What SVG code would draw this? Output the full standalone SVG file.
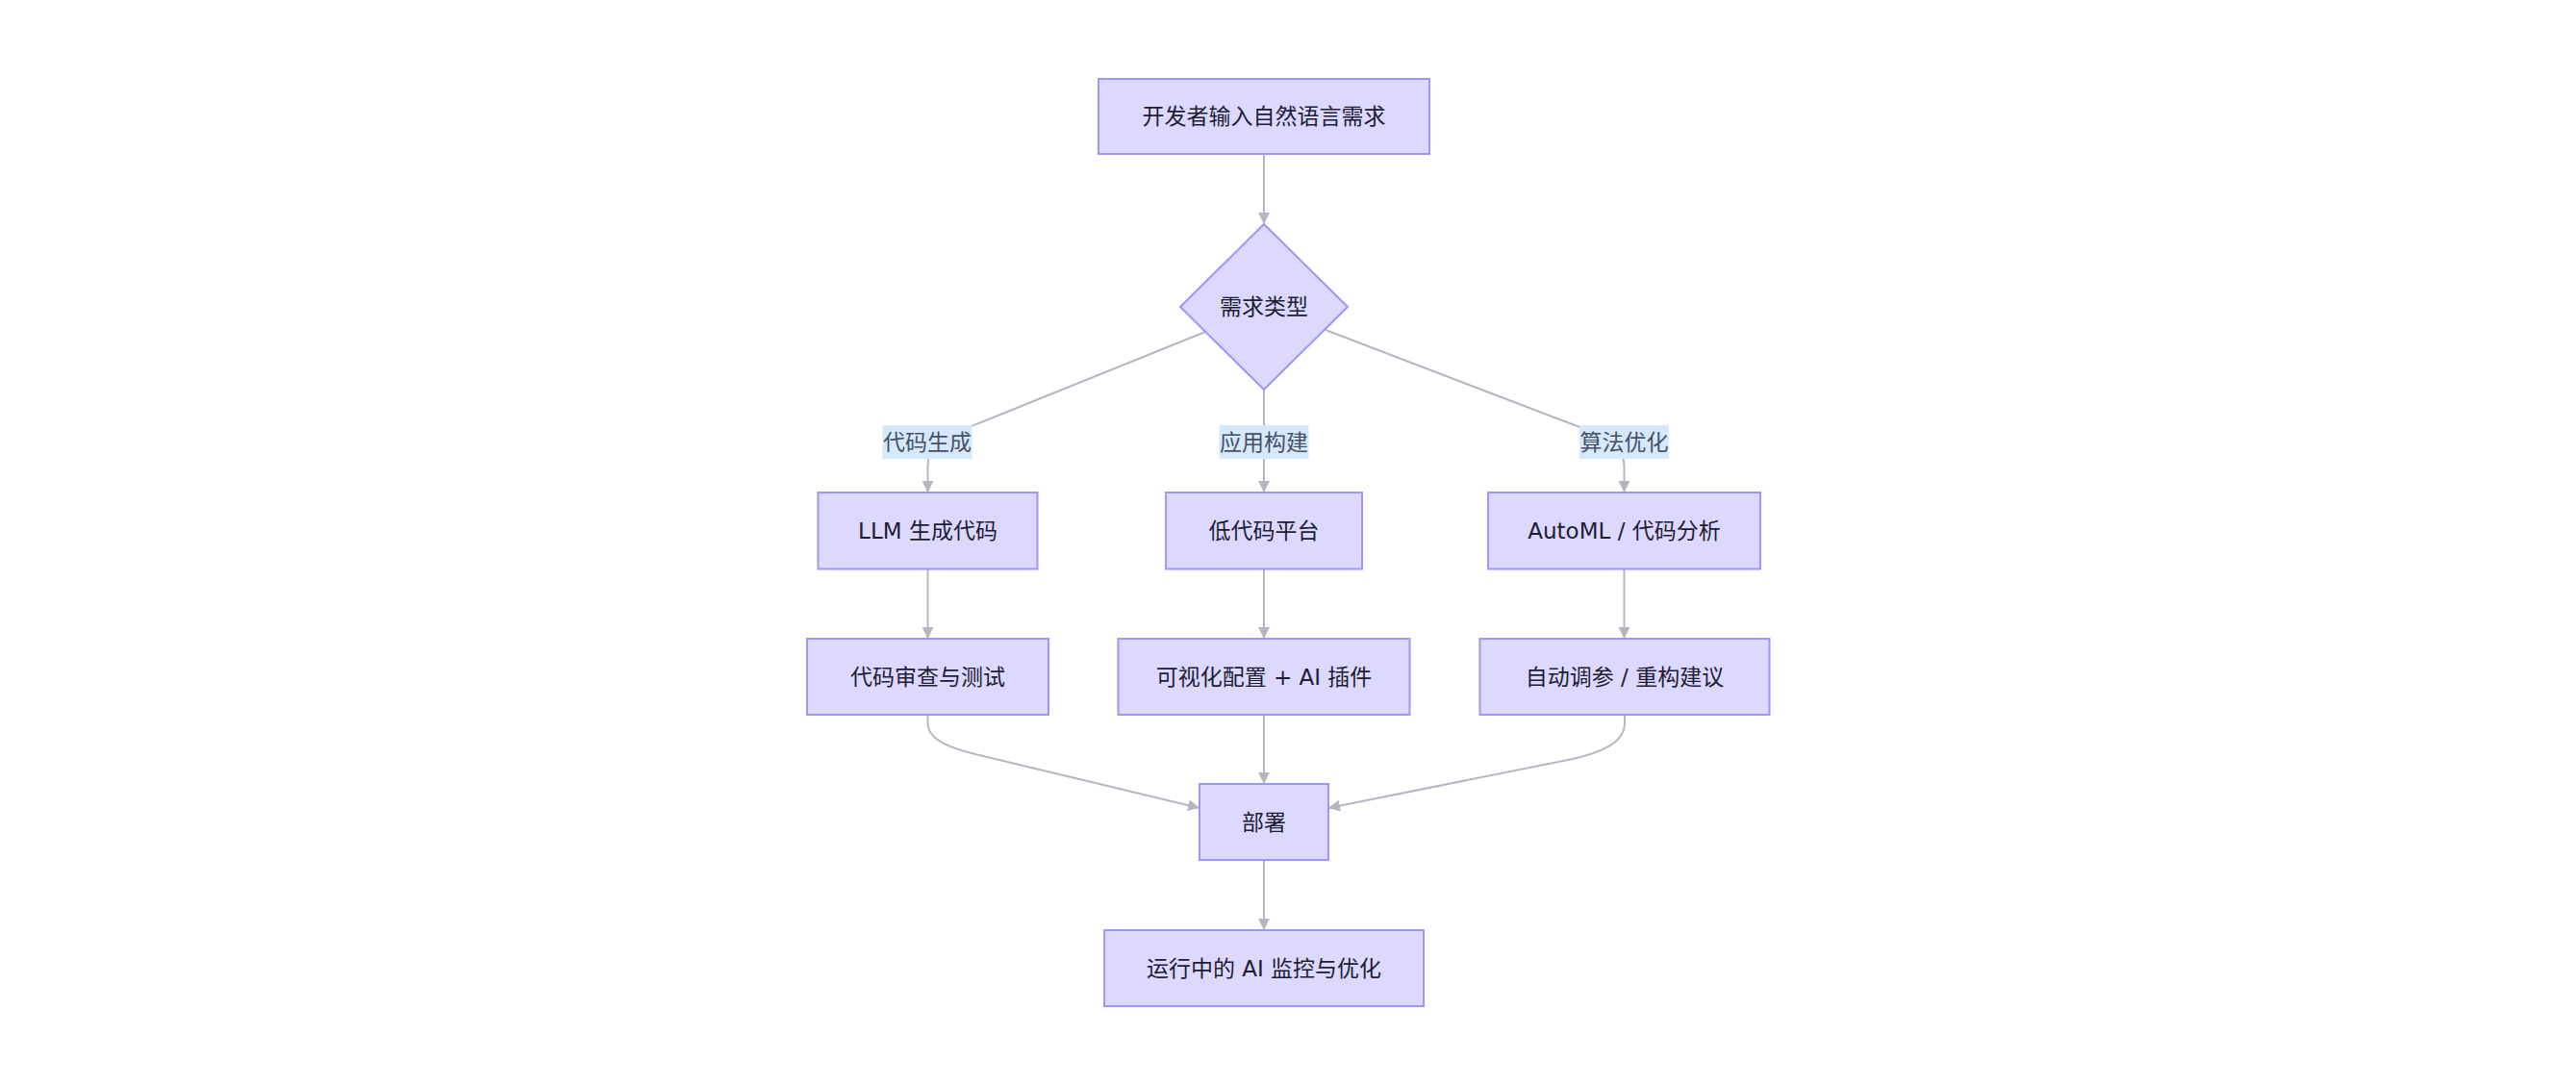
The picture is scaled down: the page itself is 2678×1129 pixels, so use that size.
<svg xmlns="http://www.w3.org/2000/svg" width="2678" height="1129" viewBox="0 0 2678 1129">
<defs>
<marker id="arrow" viewBox="0 0 10 10" refX="10" refY="5" markerUnits="userSpaceOnUse" markerWidth="12" markerHeight="12" orient="auto">
<path d="M0,0 L10,5 L0,10 z" fill="#b6b6c2"/>
</marker>
<style>
.node rect, .node polygon { fill: #dcd8ff; stroke: #9d96fb; stroke-width: 2; }
.node text { font-family: "DejaVu Sans", "Noto Sans CJK SC", sans-serif; font-size: 23px; fill: #1e1d33; text-anchor: middle; }
.edge { fill: none; stroke: #b6b6c2; stroke-width: 2; marker-end: url(#arrow); }
.elabel rect { fill: #d5e8fc; }
.elabel text { font-family: "DejaVu Sans", "Noto Sans CJK SC", sans-serif; font-size: 23px; fill: #4a5064; text-anchor: middle; }
</style>
</defs>
<rect width="2678" height="1129" fill="#ffffff"/>
<g id="connectors">
<path class="edge" d="M1314,160 L1314,233"/>
<path class="edge" d="M1253,345 L1000,447 C975,457 964.5,467 964.5,485 L964.5,512"/>
<path class="edge" d="M1314,405 L1314,512"/>
<path class="edge" d="M1378,343 L1650,447 C1675,457 1688.5,467 1688.5,485 L1688.5,512"/>
<path class="edge" d="M964.5,592 L964.5,664"/>
<path class="edge" d="M1314,592 L1314,664"/>
<path class="edge" d="M1688.5,592 L1688.5,664"/>
<path class="edge" d="M964.5,743 L964.5,752 C964.5,770 990,778.3 1020,785.5 L1247,840"/>
<path class="edge" d="M1314,743 L1314,815"/>
<path class="edge" d="M1689,743 L1689,752 C1689,772 1665,782 1635,789 L1381,840"/>
<path class="edge" d="M1314,894 L1314,967"/>
</g>
<g id="edge-labels">
<g class="elabel" id="label-codegen"><rect x="917.5" y="442" width="93" height="35"/><text x="964" y="467.5">代码生成</text></g>
<g class="elabel" id="label-appbuild"><rect x="1267.5" y="442" width="93" height="35"/><text x="1314" y="467.5">应用构建</text></g>
<g class="elabel" id="label-algo"><rect x="1642" y="442" width="93" height="35"/><text x="1688.5" y="467.5">算法优化</text></g>
</g>
<g class="node" id="n-start"><rect x="1142" y="82" width="344" height="78"/><text x="1314" y="129">开发者输入自然语言需求</text></g>
<g class="node" id="n-type"><polygon points="1314,233 1401,319 1314,405 1227,319"/><text x="1314" y="327">需求类型</text></g>
<g class="node" id="n-llm"><rect x="850.5" y="512" width="228" height="79.5"/><text x="964.5" y="560">LLM 生成代码</text></g>
<g class="node" id="n-lowcode"><rect x="1212" y="512" width="204" height="79.5"/><text x="1314" y="560">低代码平台</text></g>
<g class="node" id="n-automl"><rect x="1547" y="512" width="283" height="79.5"/><text x="1688.5" y="560">AutoML / 代码分析</text></g>
<g class="node" id="n-review"><rect x="839" y="664" width="251" height="79"/><text x="964.5" y="711.5">代码审查与测试</text></g>
<g class="node" id="n-visual"><rect x="1162.5" y="664" width="303" height="79"/><text x="1314" y="711.5">可视化配置 + AI 插件</text></g>
<g class="node" id="n-tune"><rect x="1538.5" y="664" width="301" height="79"/><text x="1689" y="711.5">自动调参 / 重构建议</text></g>
<g class="node" id="n-deploy"><rect x="1247" y="815" width="134" height="79"/><text x="1314" y="862.5">部署</text></g>
<g class="node" id="n-monitor"><rect x="1148" y="967" width="332" height="79"/><text x="1314" y="1014.5">运行中的 AI 监控与优化</text></g>
</svg>
